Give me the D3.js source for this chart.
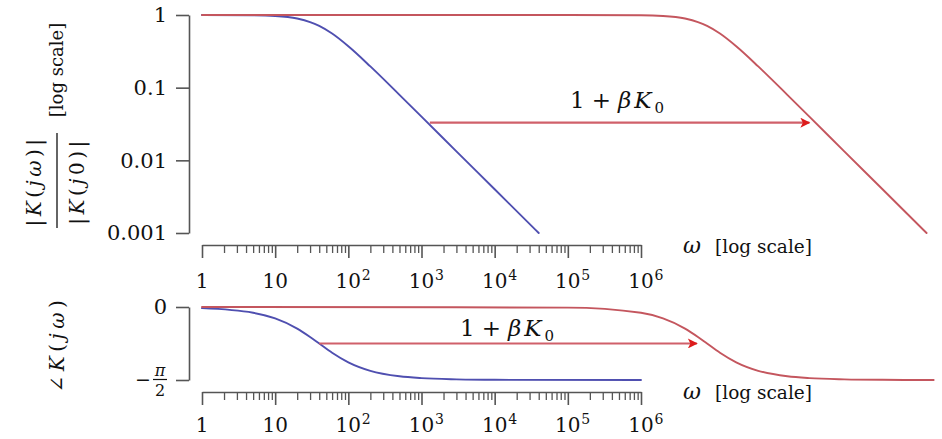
<!DOCTYPE html>
<html><head><meta charset="utf-8">
<script src="https://cdn.jsdelivr.net/npm/d3@7"></script>
<style>body{margin:0;background:#fff}svg{display:block}</style>
</head><body>
<svg id="chart" width="942" height="439"></svg>
<script>
// ---- data ----
const omegaBlue = [1, 5, 10, 20, 30, 40, 60, 100, 200, 500, 1000, 3000, 10000, 40000];
const magBlue   = [1, 0.992, 0.970, 0.894, 0.8, 0.707, 0.555, 0.371, 0.196, 0.0797, 0.04, 0.0133, 0.004, 0.001];
const omegaRed  = [1, 1e5, 1e6, 2e6, 4e6, 6e6, 8e6, 1.2e7, 2e7, 4e7, 1e8, 2e8, 6e8, 2e9, 8e9];
const magRed    = [1, 1, 0.992, 0.970, 0.894, 0.8, 0.707, 0.555, 0.371, 0.196, 0.0797, 0.04, 0.0133, 0.004, 0.001];
const omegaBluePhase = [1, 5, 10, 20, 30, 40, 60, 100, 200, 500, 1000, 3000, 10000, 1e6];
const phaseBlue = [-0.025, -0.124, -0.245, -0.464, -0.644, -0.785, -0.983, -1.190, -1.373, -1.491, -1.531, -1.557, -1.567, -1.5708];
const omegaRedPhase = [1, 1e5, 1e6, 2e6, 4e6, 6e6, 8e6, 1.2e7, 2e7, 4e7, 1e8, 2e8, 6e8, 2e9, 1e10];
const phaseRed  = [0, -0.0125, -0.124, -0.245, -0.464, -0.644, -0.785, -0.983, -1.190, -1.373, -1.491, -1.531, -1.557, -1.567, -1.5706];
const xTicks = [1, 10, 100, 1e3, 1e4, 1e5, 1e6];
const xTickBase = ["1", "10", "10", "10", "10", "10", "10"];
const xTickExp  = ["", "", "2", "3", "4", "5", "6"];
const magTicks = [0.001, 0.01, 0.1, 1];
const magTickLabels = ["0.001", "0.01", "0.1", "1"];
const phaseTicks = [-Math.PI / 2, 0];
const arrowMagOmega = [1300, 2e8];
const arrowMagValue = 0.033;
const arrowPhaseOmega = [40, 5.8e6];
const arrowPhaseValue = -0.785;

// ---- setup ----
const svg = d3.select("#chart");
const FONT = "'DejaVu Serif', 'Liberation Serif', serif";
const AXIS = "#555";
const BLUE = "#4f4fb0";
const RED = "#c4565e";

const x = d3.scaleLog().domain([1, 1e6]).range([202, 641]);
const yMag = d3.scaleLog().domain([0.001, 1]).range([233, 15]);
const yPh = d3.scaleLinear().domain([-Math.PI / 2, 0]).range([380, 307]);

function styleAxis(g) {
  g.attr("font-family", FONT).attr("font-size", 21);
  g.selectAll("path, line").attr("stroke", AXIS).attr("stroke-width", 1.6);
  g.selectAll("text").attr("fill", "#111");
}

// ---- y axes ----
const gyM = svg.append("g").attr("transform", "translate(189,0)")
  .call(d3.axisLeft(yMag).tickValues(magTicks).tickFormat((d, i) => magTickLabels[i])
    .tickSize(13).tickSizeOuter(0).tickPadding(9));
styleAxis(gyM);

const gyP = svg.append("g").attr("transform", "translate(189,0)")
  .call(d3.axisLeft(yPh).tickValues(phaseTicks).tickFormat(d => d === 0 ? "0" : "")
    .tickSize(13).tickSizeOuter(0).tickPadding(9));
styleAxis(gyP);
// -pi/2 as stacked fraction
{
  const yy = yPh(-Math.PI / 2);
  const g = svg.append("g").attr("font-family", FONT).attr("fill", "#111");
  g.append("text").attr("x", 151).attr("y", yy + 6).attr("text-anchor", "end").attr("font-size", 19).text("−");
  g.append("text").attr("x", 160).attr("y", yy - 4).attr("text-anchor", "middle").attr("font-size", 16).attr("font-style", "italic").text("π");
  g.append("line").attr("x1", 153).attr("x2", 167).attr("y1", yy - 0.5).attr("y2", yy - 0.5).attr("stroke", "#111").attr("stroke-width", 1.2);
  g.append("text").attr("x", 160).attr("y", yy + 16).attr("text-anchor", "middle").attr("font-size", 16).text("2");
}

// ---- x axes ----
function isPow10(d) { const l = Math.log10(d); return Math.abs(l - Math.round(l)) < 1e-9; }
function xAxis(yLine, baseline) {
  const minor = x.ticks().filter(d => !isPow10(d));
  const gmin = svg.append("g").attr("transform", `translate(0,${yLine})`)
    .call(d3.axisBottom(x).tickValues(minor).tickSize(8).tickSizeOuter(0).tickFormat(""));
  gmin.select(".domain").remove();
  styleAxis(gmin);
  gmin.selectAll("line").attr("stroke-width", 1.3);
  const gmaj = svg.append("g").attr("transform", `translate(0,${yLine})`)
    .call(d3.axisBottom(x).tickValues(xTicks).tickSize(13).tickSizeOuter(0).tickFormat(""));
  styleAxis(gmaj);
  const gl = svg.append("g").attr("font-family", FONT).attr("fill", "#111");
  xTicks.forEach((d, i) => {
    gl.append("text").attr("x", x(d)).attr("y", baseline).attr("text-anchor", "middle")
      .attr("font-size", 20).text(xTickBase[i]);
    if (xTickExp[i]) {
      gl.append("text").attr("x", x(d) + 13.5).attr("y", baseline - 8).attr("font-size", 14)
        .text(xTickExp[i]);
    }
  });
}
xAxis(245, 288);
xAxis(392, 432);

// ---- axis titles ----
function omegaLabel(baseline) {
  const g = svg.append("g").attr("font-family", FONT).attr("fill", "#111");
  g.append("text").attr("x", 683).attr("y", baseline).attr("font-size", 22).attr("font-style", "italic").text("ω");
  g.append("text").attr("x", 715).attr("y", baseline).attr("font-size", 18.5).text("[log scale]");
}
omegaLabel(253);
omegaLabel(399);

{
  const g = svg.append("g").attr("font-family", FONT).attr("fill", "#111");
  g.append("text").attr("transform", "translate(63,70) rotate(-90)").attr("text-anchor", "middle")
    .attr("font-size", 18).text("[log scale]");
  const num = g.append("text").attr("transform", "translate(41,181) rotate(-90)").attr("text-anchor", "middle")
    .attr("font-size", 20).attr("letter-spacing", 3.5);
  num.append("tspan").text("|");
  num.append("tspan").attr("font-style", "italic").text("K");
  num.append("tspan").text("(");
  num.append("tspan").attr("font-style", "italic").text("jω");
  num.append("tspan").text(")|");
  g.append("line").attr("x1", 57).attr("x2", 57).attr("y1", 133).attr("y2", 228)
    .attr("stroke", "#111").attr("stroke-width", 1.3);
  const den = g.append("text").attr("transform", "translate(84,181) rotate(-90)").attr("text-anchor", "middle")
    .attr("font-size", 20).attr("letter-spacing", 3.5);
  den.append("tspan").text("|");
  den.append("tspan").attr("font-style", "italic").text("K");
  den.append("tspan").text("(");
  den.append("tspan").attr("font-style", "italic").text("j");
  den.append("tspan").text("0)|");
  const ph = g.append("text").attr("transform", "translate(64,344) rotate(-90)").attr("text-anchor", "middle")
    .attr("font-size", 20).attr("letter-spacing", 4.5);
  ph.append("tspan").text("∠");
  ph.append("tspan").attr("font-style", "italic").text("K");
  ph.append("tspan").text("(");
  ph.append("tspan").attr("font-style", "italic").text("jω");
  ph.append("tspan").text(")");
}

// ---- curves ----
function drawCurve(ws, vs, yScale, color) {
  const pts = ws.map((w, i) => [x(w), yScale(vs[i])]);
  svg.append("path").attr("d", d3.line().curve(d3.curveMonotoneX)(pts))
    .attr("fill", "none").attr("stroke", color).attr("stroke-width", 1.9)
    .attr("stroke-linejoin", "round").attr("stroke-linecap", "round");
}
drawCurve(omegaBlue, magBlue, yMag, BLUE);
drawCurve(omegaRed, magRed, yMag, RED);
drawCurve(omegaBluePhase, phaseBlue, yPh, BLUE);
drawCurve(omegaRedPhase, phaseRed, yPh, RED);

// ---- arrows ----
const defs = svg.append("defs");
defs.append("marker").attr("id", "ah").attr("viewBox", "0 0 10 10").attr("refX", 9).attr("refY", 5)
  .attr("markerWidth", 12).attr("markerHeight", 10).attr("markerUnits", "userSpaceOnUse").attr("orient", "auto")
  .append("path").attr("d", "M0,0 L10,5 L0,10 L2.5,5 Z").attr("fill", "#dd1c1c");

function arrow(ws, v, yScale) {
  svg.append("line").attr("x1", x(ws[0])).attr("x2", x(ws[1]))
    .attr("y1", yScale(v)).attr("y2", yScale(v))
    .attr("stroke", "#d0606a").attr("stroke-width", 2.2).attr("marker-end", "url(#ah)");
}
arrow(arrowMagOmega, arrowMagValue, yMag);
arrow(arrowPhaseOmega, arrowPhaseValue, yPh);

function gainLabel(xStart, baseline) {
  const t = svg.append("text").attr("x", xStart).attr("y", baseline)
    .attr("font-family", FONT).attr("font-size", 23).attr("fill", "#111");
  t.append("tspan").text("1");
  t.append("tspan").attr("dx", 7).text("+");
  t.append("tspan").attr("dx", 7).attr("font-style", "italic").text("β");
  t.append("tspan").attr("dx", 3).attr("font-style", "italic").text("K");
  t.append("tspan").attr("dx", 3).attr("dy", 5).attr("font-size", 15).text("0");
}
gainLabel(570, 108);
gainLabel(460, 336);
</script>
</body></html>
